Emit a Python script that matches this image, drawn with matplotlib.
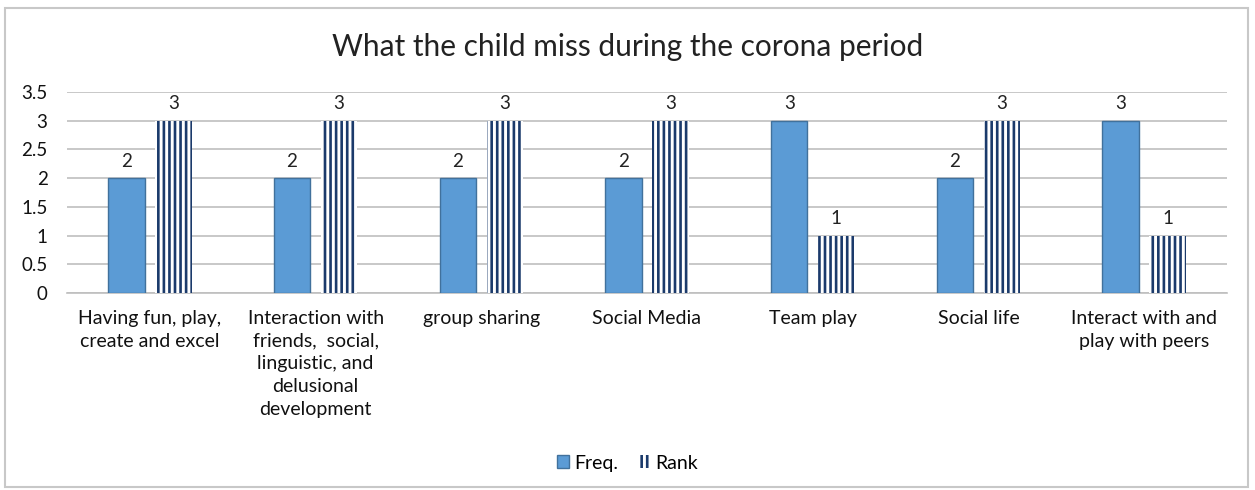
import numpy as np
import matplotlib
matplotlib.use('Agg')
import matplotlib.pyplot as plt
from matplotlib.patches import Rectangle
from matplotlib.ticker import FormatStrFormatter

plt.rcParams['font.family'] = ['Lato', 'DejaVu Sans']
plt.rcParams['hatch.linewidth'] = 1.9

categories = ['Having fun, play,\ncreate and excel',
              'Interaction with\nfriends,  social,\nlinguistic, and\ndelusional\ndevelopment',
              'group sharing', 'Social Media', 'Team play', 'Social life',
              'Interact with and\nplay with peers']
freq = [2, 2, 2, 2, 3, 2, 3]
rank = [3, 3, 3, 3, 1, 3, 1]

fig = plt.figure(figsize=(12.55, 4.9), dpi=100)
ax = fig.add_axes([67 / 1255, 1 - 293 / 490, 1160 / 1255, 201 / 490])

x = np.arange(len(categories))
w = 0.22
b1 = ax.bar(x - 0.142, freq, w, color='#5B9BD5', edgecolor='#41719C', linewidth=1.0, label='Freq.', zorder=3)
b2 = ax.bar(x + 0.142, rank, w, color='white', edgecolor='#1B3A6B', linewidth=0, hatch='|||', label='Rank', zorder=3)
ax.bar_label(b1, padding=6, fontsize=13.5, color='#222222')
ax.bar_label(b2, padding=6, fontsize=13.5, color='#222222')

ax.set_xlim(-0.5, len(categories) - 0.5)
ax.set_ylim(0, 3.5)
ax.set_yticks(np.arange(0, 3.51, 0.5))
ax.yaxis.set_major_formatter(FormatStrFormatter('%g'))
ax.set_xticks(x)
ax.set_xticklabels(categories, fontsize=14, linespacing=1.42, va='top')
ax.tick_params(axis='both', length=0, colors='#111111')
ax.tick_params(axis='y', labelsize=13.5, pad=14)
ax.tick_params(axis='x', pad=12)
ax.grid(axis='y', color='#BFBFBF', linewidth=1.2, zorder=0)
for s in ['top', 'right', 'left']:
    ax.spines[s].set_visible(False)
ax.spines['bottom'].set_color('#BFBFBF')
ax.spines['bottom'].set_linewidth(1.2)

fig.text(0.5, 1 - 47 / 490, 'What the child miss during the corona period', ha='center', va='center',
         fontsize=21.5, color='#222222')
fig.legend(handles=[b1, b2], loc='center', bbox_to_anchor=(0.5, 1 - 463 / 490), ncol=2, frameon=False,
           fontsize=14, handlelength=0.6, handleheight=0.6, handletextpad=0.3, columnspacing=1.0)

fig.patches.append(Rectangle((5 / 1255, 3 / 490), 1243 / 1255, 479 / 490, transform=fig.transFigure,
                             fill=False, edgecolor='#C8C8C8', linewidth=1.5))

fig.savefig('out.png', dpi=100)
